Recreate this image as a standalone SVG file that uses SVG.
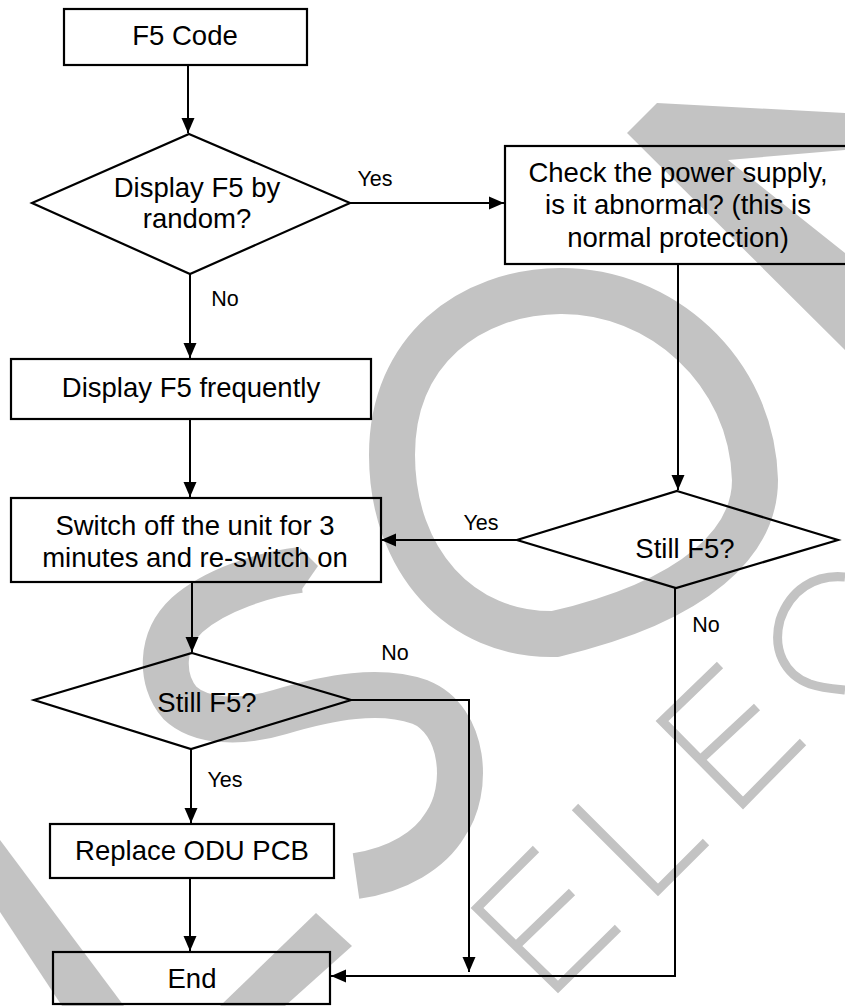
<svg xmlns="http://www.w3.org/2000/svg" width="845" height="1006" viewBox="0 0 845 1006">
<style>
.wm{fill:none;stroke:#c3c3c3;stroke-linejoin:miter}
.wmf{fill:#c3c3c3;stroke:none}
.box{fill:none;stroke:#000;stroke-width:2.2}
.ln{fill:none;stroke:#000;stroke-width:2}
.t{font-family:"Liberation Sans",Arial,sans-serif;font-size:27.5px;fill:#000;text-anchor:middle}
.lb{font-family:"Liberation Sans",Arial,sans-serif;font-size:21.5px;fill:#000;text-anchor:middle}
</style>
<defs>
<marker id="ah" markerUnits="userSpaceOnUse" markerWidth="16" markerHeight="14" refX="15" refY="7" orient="auto">
<path d="M0,0.5 L15,7 L0,13.5 Z" fill="#000"/>
</marker>
</defs>
<rect width="845" height="1006" fill="#fff"/>
<g id="watermark">
<path class="wmf" d="M627,133 L657,103 L845,113 L845,150 L728,160 L845,253 L845,350 Z"/>
<path class="wm" stroke-width="46" d="M392,455 C392,350 470,292 560,291 C660,290 752,370 755,480 C755,540 700,600 555,634 C460,636 392,560 392,455 Z"/>
<path class="wm" stroke-width="46" d="M300,570 C265,574 215,590 187,615 C160,640 160,680 180,703 C200,722 240,724 280,712 C330,697 380,688 420,702 C465,720 470,790 445,825 C430,850 398,870 356,876"/>
<path class="wmf" d="M300,548 L318,566 L300,592 Z"/>
<path class="wmf" d="M0,840 L124,1006 L62,1006 L0,912 Z"/>
<path class="wmf" d="M220,1006 L316,913 L352,946 L285,1006 Z"/>
<path class="wm" stroke-width="9" d="M845,577 C815,574 790,590 780,620 C772,650 785,675 810,684 C822,688 835,689 845,690"/>
<path class="wm" stroke-width="9" d="M720,665 L662,721 L743,803 L803,742 M700,760 L757,707"/>
<path class="wm" stroke-width="9" d="M575,807 L658,890 L706,842"/>
<path class="wm" stroke-width="9" d="M536,849 L477,908 L558,987 L618,928 M518,944 L572,892"/>
</g>
<g id="connectors">
<path class="ln" d="M188,65 L188,133" marker-end="url(#ah)"/>
<path class="ln" d="M350,203 L504,203" marker-end="url(#ah)"/>
<path class="ln" d="M190,274 L190,358" marker-end="url(#ah)"/>
<path class="ln" d="M678,264 L678,490" marker-end="url(#ah)"/>
<path class="ln" d="M190,419 L190,497" marker-end="url(#ah)"/>
<path class="ln" d="M517,540 L381,540" marker-end="url(#ah)"/>
<path class="ln" d="M192,582 L192,652" marker-end="url(#ah)"/>
<path class="ln" d="M351,700 L469,700 L469,972" marker-end="url(#ah)"/>
<path class="ln" d="M191,749 L191,823" marker-end="url(#ah)"/>
<path class="ln" d="M190,878 L190,951" marker-end="url(#ah)"/>
<path class="ln" d="M675,588 L675,976 L331,976" marker-end="url(#ah)"/>
<text class="lb" x="375" y="186">Yes</text>
<text class="lb" x="225" y="306">No</text>
<text class="lb" x="481" y="530">Yes</text>
<text class="lb" x="706" y="632">No</text>
<text class="lb" x="395" y="660">No</text>
<text class="lb" x="225" y="787">Yes</text>
</g>
<g id="n-f5code">
<rect class="box" x="64" y="9" width="243" height="56"/>
<text class="t" x="185" y="45">F5 Code</text>
</g>
<g id="n-random">
<path class="box" d="M189,134 L350,203 L190,274 L32,203 Z"/>
<text class="t" x="197" y="197">Display F5 by</text>
<text class="t" x="197" y="228">random?</text>
</g>
<g id="n-power">
<rect class="box" x="505" y="146" width="350" height="118"/>
<text class="t" x="678" y="182">Check the power supply,</text>
<text class="t" x="678" y="214">is it abnormal? (this is</text>
<text class="t" x="678" y="247">normal protection)</text>
</g>
<g id="n-frequent">
<rect class="box" x="11" y="359" width="360" height="60"/>
<text class="t" x="191" y="397">Display F5 frequently</text>
</g>
<g id="n-still1">
<path class="box" d="M677,491 L838,540 L676,588 L517,540 Z"/>
<text class="t" x="685" y="558">Still F5?</text>
</g>
<g id="n-switch">
<rect class="box" x="11" y="498" width="370" height="84"/>
<text class="t" x="195" y="535">Switch off the unit for 3</text>
<text class="t" x="195" y="567">minutes and re-switch on</text>
</g>
<g id="n-still2">
<path class="box" d="M192,653 L351,700 L191,749 L34,700 Z"/>
<text class="t" x="207" y="712">Still F5?</text>
</g>
<g id="n-replace">
<rect class="box" x="50" y="824" width="284" height="54"/>
<text class="t" x="192" y="860">Replace ODU PCB</text>
</g>
<g id="n-end">
<rect class="box" x="53" y="952" width="277" height="52"/>
<text class="t" x="192" y="988">End</text>
</g>
</svg>
